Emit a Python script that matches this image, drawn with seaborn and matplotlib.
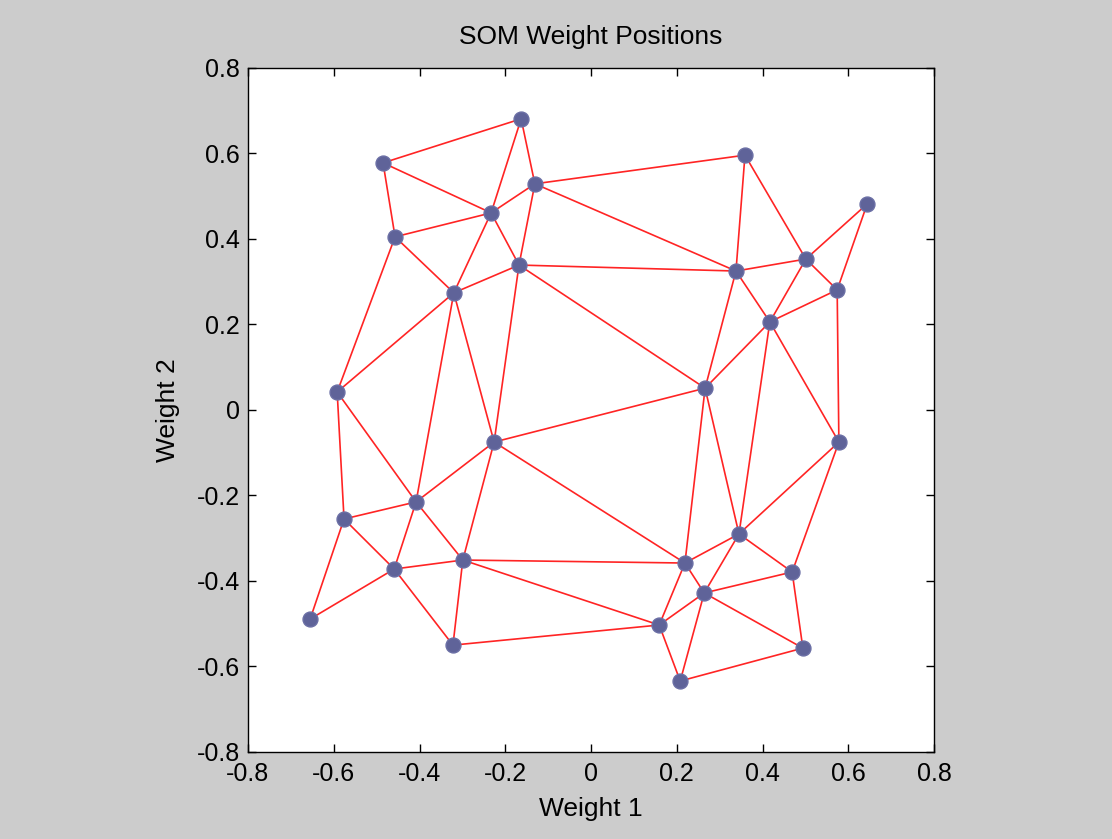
import matplotlib
matplotlib.use("Agg")
import matplotlib.pyplot as plt
import seaborn as sns
import pandas as pd

# SOM neuron weights
weight1 = [-0.163, -0.485, -0.131, -0.233, -0.457, 0.359, 0.644, -0.168, 0.338, 0.501,
           0.574, -0.320, 0.417, -0.592, 0.266, -0.226, 0.578, -0.408, -0.576, 0.345,
           -0.299, 0.219, -0.459, 0.469, 0.264, -0.655, 0.159, -0.322, 0.494, 0.208]
weight2 = [0.681, 0.578, 0.529, 0.461, 0.405, 0.596, 0.482, 0.339, 0.325, 0.353,
           0.281, 0.274, 0.206, 0.042, 0.051, -0.075, -0.075, -0.215, -0.255, -0.290,
           -0.351, -0.358, -0.372, -0.379, -0.428, -0.489, -0.503, -0.550, -0.557, -0.634]

# neighbour links between neurons (1-based)
links = [(1, 2), (1, 3), (1, 4), (2, 4), (2, 5), (3, 4), (3, 6), (3, 8), (3, 9), (4, 5),
         (4, 8), (4, 12), (5, 12), (5, 14), (6, 9), (6, 10), (7, 10), (7, 11), (8, 9), (8, 12),
         (8, 15), (8, 16), (9, 10), (9, 13), (9, 15), (10, 11), (10, 13), (11, 13), (11, 17),
         (12, 14), (12, 16), (12, 18), (13, 15), (13, 17), (13, 20), (14, 18), (14, 19),
         (15, 16), (15, 20), (15, 22), (16, 18), (16, 21), (16, 22), (17, 20), (17, 24),
         (18, 19), (18, 21), (18, 23), (19, 23), (19, 26), (20, 22), (20, 24), (20, 25),
         (21, 22), (21, 23), (21, 27), (21, 28), (22, 25), (22, 27), (23, 26), (23, 28),
         (24, 25), (24, 29), (25, 27), (25, 29), (25, 30), (27, 28), (27, 30), (29, 30)]

ticks = [-0.8, -0.6, -0.4, -0.2, 0, 0.2, 0.4, 0.6, 0.8]
tick_labels = ["-0.8", "-0.6", "-0.4", "-0.2", "0", "0.2", "0.4", "0.6", "0.8"]

nodes = pd.DataFrame({"w1": weight1, "w2": weight2})
rows = []
for k, (a, b) in enumerate(links):
    rows.append({"link": k, "w1": weight1[a - 1], "w2": weight2[a - 1]})
    rows.append({"link": k, "w1": weight1[b - 1], "w2": weight2[b - 1]})
edges = pd.DataFrame(rows)

sns.set_style("ticks")
plt.rcParams["font.family"] = ["Liberation Sans", "DejaVu Sans"]
plt.rcParams["text.color"] = "black"
plt.rcParams["axes.labelcolor"] = "black"

fig = plt.figure(figsize=(11.12, 8.39), dpi=100, facecolor="#cccccc")
ax = fig.add_axes([0.223, 0.1037, 0.617, 0.8153])
ax.set_facecolor("white")

# links first, neurons on top
sns.lineplot(data=edges, x="w1", y="w2", units="link", estimator=None, sort=False,
             color="#ff2424", linewidth=1.2, ax=ax, legend=False)
sns.scatterplot(data=nodes, x="w1", y="w2", marker="o", s=115, color="#5f6399",
                edgecolor="#6b6fa5", linewidth=1.0, ax=ax, zorder=3, legend=False)

ax.set_xlim(-0.8, 0.8)
ax.set_ylim(-0.8, 0.8)
ax.set_xticks(ticks)
ax.set_yticks(ticks)
ax.set_xticklabels(tick_labels)
ax.set_yticklabels(tick_labels)
ax.tick_params(direction="in", length=6, width=1, top=True, right=True,
               labelsize=18, colors="black")
ax.tick_params(axis="x", pad=7)
ax.tick_params(axis="y", pad=6)
for s in ax.spines.values():
    s.set_visible(True)
    s.set_color("black")
    s.set_linewidth(1.0)

ax.set_title("SOM Weight Positions", fontsize=19, pad=17)
ax.set_xlabel("Weight 1", fontsize=19, labelpad=8)
ax.set_ylabel("Weight 2", fontsize=19, labelpad=12)

fig.savefig("out.png", dpi=100, facecolor=fig.get_facecolor())
